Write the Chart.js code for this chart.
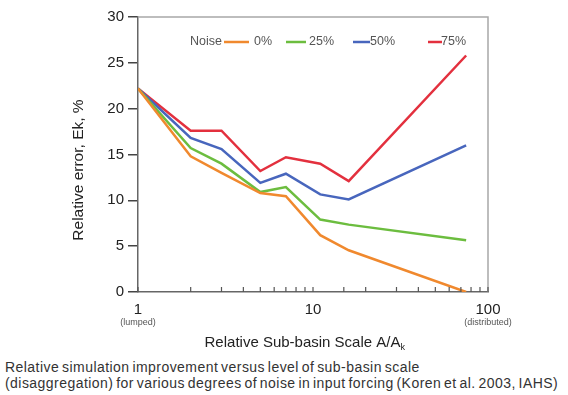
<!DOCTYPE html>
<html>
<head>
<meta charset="utf-8">
<script src="https://cdn.jsdelivr.net/npm/chart.js@4/dist/chart.umd.min.js"></script>
<style>
body { margin: 0; background: #fff; font-family: "Liberation Sans", Arial, sans-serif; }
#wrap { position: relative; width: 568px; height: 395px; overflow: hidden; }
#legenda { position: absolute; left: 5px; top: 359px; font-size: 14px; line-height: 16px; color: #333; letter-spacing: 0.45px; word-spacing: -1.5px; white-space: nowrap; }
</style>
</head>
<body>
<div id="wrap">
<canvas id="grafico" width="568" height="350"></canvas>
<div id="legenda">Relative simulation improvement versus level of sub-basin scale<br>(disaggregation) for various degrees of noise in input forcing (Koren et al. 2003, IAHS)</div>
</div>
<script>
// escala relativa A/Ak (eixo log)
const escala = [1, 2, 3, 5, 7, 11, 16, 75];
const ruido0 = [22.2, 14.8, 13.0, 10.8, 10.45, 6.2, 4.55, 0.0];
const ruido25 = [22.2, 15.7, 14.0, 10.9, 11.45, 7.9, 7.35, 5.65];
const ruido50 = [22.2, 16.8, 15.6, 11.9, 12.9, 10.65, 10.1, 16.0];
const ruido75 = [22.2, 17.6, 17.6, 13.2, 14.7, 14.0, 12.1, 25.8];
const nomesSerie = ["0%", "25%", "50%", "75%"];
const coresSerie = ["#f0892e", "#6cbd3f", "#4866bd", "#e3303e"];
const ticksX = [1, 10, 100];
const subRotulosX = ["(lumped)", "", "(distributed)"];

const series = [ruido0, ruido25, ruido50, ruido75];

function pares(valores) {
    return escala.map((x, i) => ({ x: x, y: valores[i] }));
}

// posição dos itens da legenda (deslocamento a partir da borda esquerda do gráfico)
const legendaPos = [
    { linha: [86, 111], texto: 116 },
    { linha: [148, 168], texto: 171 },
    { linha: [215, 232], texto: 232 },
    { linha: [290, 304], texto: 303 }
];

const extras = {
    id: "extras",
    afterDraw(chart) {
        const ctx = chart.ctx;
        const a = chart.chartArea;
        const sx = chart.scales.x;
        ctx.save();

        // moldura superior e direita
        ctx.strokeStyle = "#a8a8a8";
        ctx.lineWidth = 1.5;
        ctx.beginPath();
        ctx.moveTo(a.left, a.top);
        ctx.lineTo(a.right, a.top);
        ctx.lineTo(a.right, a.bottom);
        ctx.stroke();

        // marcas do eixo x para dentro
        ctx.strokeStyle = "#555";
        ctx.lineWidth = 1.2;
        sx.ticks.forEach(t => {
            const px = sx.getPixelForValue(t.value);
            ctx.beginPath();
            ctx.moveTo(px, a.bottom);
            ctx.lineTo(px, a.bottom - 5);
            ctx.stroke();
        });

        // sub rótulos do eixo x
        ctx.fillStyle = "#555";
        ctx.font = "9px 'Liberation Sans', Arial, sans-serif";
        ctx.textAlign = "center";
        ctx.textBaseline = "middle";
        ticksX.forEach((v, i) => {
            if (subRotulosX[i]) ctx.fillText(subRotulosX[i], sx.getPixelForValue(v), a.bottom + 31);
        });

        // título do eixo x com subscrito
        ctx.fillStyle = "#222";
        ctx.font = "15px 'Liberation Sans', Arial, sans-serif";
        ctx.textAlign = "left";
        ctx.textBaseline = "alphabetic";
        const tx = "Relative Sub-basin Scale A/A";
        const w = ctx.measureText(tx).width;
        const x0 = 305 - (w + 5) / 2;
        ctx.fillText(tx, x0, a.bottom + 55);
        ctx.font = "9px 'Liberation Sans', Arial, sans-serif";
        ctx.fillText("k", x0 + w, a.bottom + 58);

        // título do eixo y
        ctx.font = "15.5px 'Liberation Sans', Arial, sans-serif";
        ctx.translate(79, 170);
        ctx.rotate(-Math.PI / 2);
        ctx.textAlign = "center";
        ctx.textBaseline = "middle";
        ctx.fillText("Relative error, Ek, %", 0, 0);
        ctx.setTransform(1, 0, 0, 1, 0, 0);

        // legenda
        const ly = a.top + 25;
        ctx.font = "12.5px 'Liberation Sans', Arial, sans-serif";
        ctx.fillStyle = "#555";
        ctx.textAlign = "left";
        ctx.fillText("Noise", a.left + 52, ly);
        chart.data.datasets.forEach((ds, i) => {
            const p = legendaPos[i];
            ctx.strokeStyle = ds.borderColor;
            ctx.lineWidth = 2.5;
            ctx.beginPath();
            ctx.moveTo(a.left + p.linha[0], ly);
            ctx.lineTo(a.left + p.linha[1], ly);
            ctx.stroke();
            ctx.fillStyle = "#555";
            ctx.fillText(ds.label, a.left + p.texto, ly);
        });
        ctx.restore();
    }
};

new Chart(document.getElementById("grafico"), {
    type: "line",
    data: {
        datasets: series.map((s, i) => ({
            label: nomesSerie[i],
            data: pares(s),
            borderColor: coresSerie[i],
            backgroundColor: coresSerie[i],
            borderWidth: 2.5,
            pointRadius: 0,
            tension: 0
        }))
    },
    options: {
        responsive: false,
        animation: false,
        layout: { padding: { left: 0, top: 17, right: 80, bottom: 0 } },
        plugins: { legend: { display: false }, tooltip: { enabled: false } },
        scales: {
            x: {
                type: "logarithmic",
                min: 1,
                max: 100,
                afterFit: s => { s.height = 58; },
                grid: { display: false },
                border: { color: "#666", width: 1.5 },
                ticks: {
                    autoSkip: false,
                    maxRotation: 0,
                    padding: 1,
                    color: "#222",
                    font: { size: 15, family: "'Liberation Sans', Arial, sans-serif" },
                    callback: v => ticksX.includes(v) ? String(v) : ""
                }
            },
            y: {
                min: 0,
                max: 30,
                afterFit: s => { s.width = 138; },
                grid: { drawOnChartArea: false, tickLength: 10, color: "#444", lineWidth: 1.5 },
                border: { color: "#666", width: 1.5 },
                ticks: {
                    stepSize: 5,
                    padding: 4,
                    color: "#222",
                    font: { size: 15, family: "'Liberation Sans', Arial, sans-serif" }
                }
            }
        }
    },
    plugins: [extras]
});
</script>
</body>
</html>
